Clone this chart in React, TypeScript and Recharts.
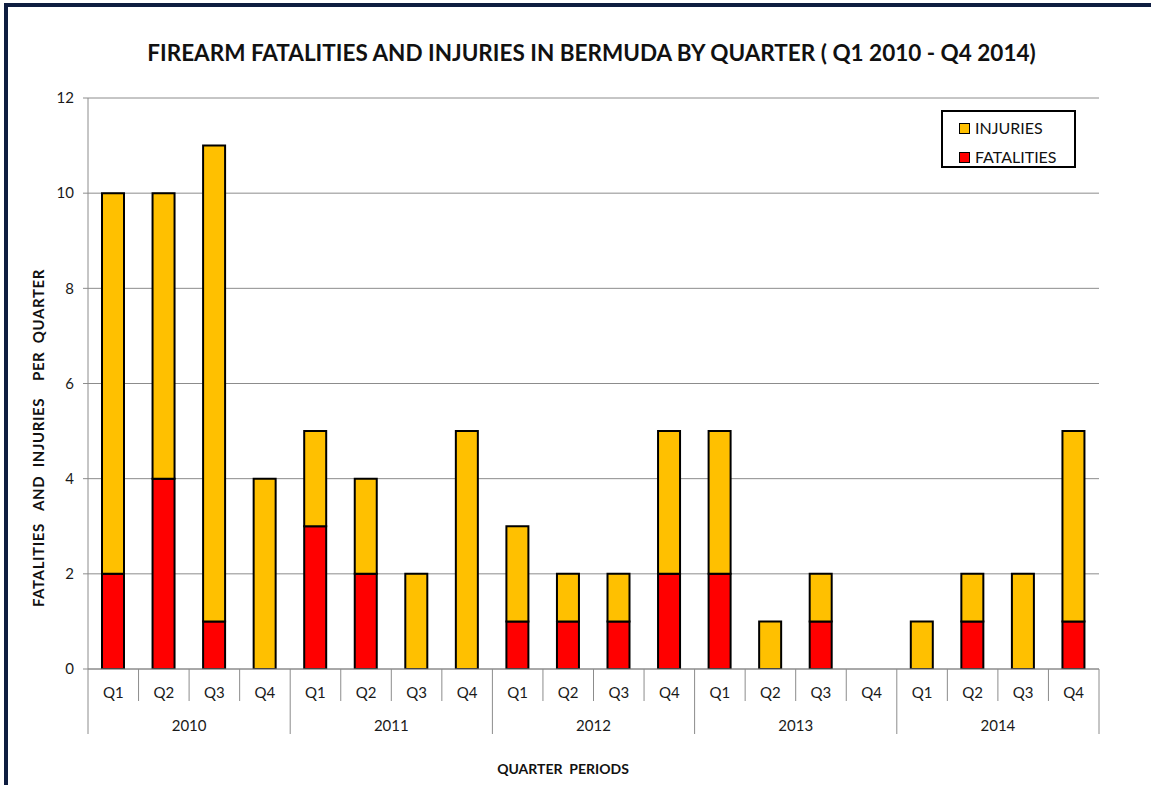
import React from "react";
import { Bar, BarChart, CartesianGrid, XAxis, YAxis } from "recharts";

document.body.style.margin = "0";

const years: string[] = ["2010", "2011", "2012", "2013", "2014"];
const quarters: string[] = ["Q1", "Q2", "Q3", "Q4"];

// per quarter, in order Q1 2010 .. Q4 2014
const fatalities: number[] = [2, 4, 1, 0, 3, 2, 0, 0, 1, 1, 1, 2, 2, 0, 1, 0, 0, 1, 0, 1];
const injuries: number[] = [8, 6, 10, 4, 2, 2, 2, 5, 2, 1, 1, 3, 3, 1, 1, 0, 1, 1, 2, 4];

const yTicks: number[] = [0, 2, 4, 6, 8, 10, 12];

const data = fatalities.map((f, i) => ({
  quarter: quarters[i % 4],
  year: years[Math.floor(i / 4)],
  fatalities: f,
  injuries: injuries[i],
}));

const W = 1151;
const H = 785;
const PLOT_LEFT = 88;
const PLOT_RIGHT = 1099;
const PLOT_TOP = 98;
const PLOT_BOTTOM = 669;
const BAND = (PLOT_RIGHT - PLOT_LEFT) / data.length;
const FONT = "Lato, 'Open Sans', sans-serif";
const GRID = "#8c8c8c";

const QuarterTick = (props: any) => {
  const { x, index, payload } = props;
  const left = x - BAND / 2;
  const right = x + BAND / 2;
  const last = index === data.length - 1;
  const yearStart = index % 4 === 0;
  return (
    <g>
      <line
        x1={left}
        x2={left}
        y1={PLOT_BOTTOM}
        y2={yearStart ? 734 : 701}
        stroke={GRID}
        strokeWidth={1}
      />
      {last && (
        <line x1={right} x2={right} y1={PLOT_BOTTOM} y2={734} stroke={GRID} strokeWidth={1} />
      )}
      <text
        x={x}
        y={692}
        textAnchor="middle"
        dominantBaseline="central"
        fontSize={15}
        fontFamily={FONT}
        fill="#1a1a1a"
      >
        {payload.value}
      </text>
      {yearStart && (
        <text
          x={left + BAND * 2}
          y={725}
          textAnchor="middle"
          dominantBaseline="central"
          fontSize={15}
          fontFamily={FONT}
          fill="#1a1a1a"
        >
          {data[index].year}
        </text>
      )}
    </g>
  );
};

const legendItems = [
  { name: "INJURIES", color: "#FFC000", top: 7 },
  { name: "FATALITIES", color: "#FF0000", top: 36 },
];

const App: React.FC = () => {
  return (
    <div style={{ position: "relative", width: W, height: H, background: "#fff", overflow: "hidden" }}>
      <div
        style={{
          position: "absolute",
          left: 4,
          top: 3,
          width: W + 20,
          height: H + 20,
          borderLeft: "4px solid #0e1d40",
          borderTop: "4px solid #0e1d40",
        }}
      />
      <div
        style={{
          position: "absolute",
          left: 0,
          width: 1183,
          top: 38,
          textAlign: "center",
          fontFamily: FONT,
          fontWeight: 700,
          fontSize: 22.5,
          color: "#111",
          lineHeight: "30px",
        }}
      >
        FIREARM FATALITIES AND INJURIES IN BERMUDA BY QUARTER ( Q1 2010 - Q4 2014)
      </div>
      <div
        style={{
          position: "absolute",
          left: 38,
          top: 438,
          transform: "translate(-50%, -50%) rotate(-90deg)",
          whiteSpace: "pre",
          fontFamily: FONT,
          fontWeight: 700,
          fontSize: 15,
          letterSpacing: 0.6,
          color: "#111",
        }}
      >
        {"FATALITIES   AND  INJURIES    PER  QUARTER"}
      </div>
      <div
        style={{
          position: "absolute",
          left: 563,
          top: 768,
          transform: "translate(-50%, -50%)",
          whiteSpace: "pre",
          fontFamily: FONT,
          fontWeight: 700,
          fontSize: 14,
          color: "#111",
        }}
      >
        {"QUARTER  PERIODS"}
      </div>
      <div style={{ position: "absolute", left: 0, top: 0 }}>
        <BarChart
          width={W}
          height={H}
          data={data}
          margin={{ top: PLOT_TOP, right: W - PLOT_RIGHT, left: 0, bottom: 0 }}
          barSize={22}
        >
          <CartesianGrid stroke={GRID} vertical={false} />
          <XAxis
            dataKey="quarter"
            interval={0}
            height={H - PLOT_BOTTOM}
            tickLine={false}
            tickSize={0}
            axisLine={{ stroke: GRID }}
            tick={<QuarterTick />}
          />
          <YAxis
            width={PLOT_LEFT}
            domain={[0, 12]}
            ticks={yTicks}
            allowDataOverflow
            tickSize={5}
            tickMargin={9}
            axisLine={{ stroke: GRID }}
            tickLine={{ stroke: GRID }}
            tick={{ fontSize: 15, fontFamily: FONT, fill: "#1a1a1a" }}
          />
          <Bar
            dataKey="fatalities"
            name="FATALITIES"
            stackId="a"
            fill="#FF0000"
            stroke="#000"
            strokeWidth={2}
            isAnimationActive={false}
          />
          <Bar
            dataKey="injuries"
            name="INJURIES"
            stackId="a"
            fill="#FFC000"
            stroke="#000"
            strokeWidth={2}
            isAnimationActive={false}
          />
        </BarChart>
      </div>
      <div
        style={{
          position: "absolute",
          left: 941,
          top: 110,
          width: 131,
          height: 54,
          border: "2px solid #000",
          background: "#fff",
          fontFamily: FONT,
          fontSize: 16,
          color: "#111",
        }}
      >
        {legendItems.map((it) => (
          <div
            key={it.name}
            style={{ position: "absolute", left: 16, top: it.top, display: "flex", alignItems: "center" }}
          >
            <span
              style={{
                display: "inline-block",
                width: 9,
                height: 9,
                background: it.color,
                border: "1.5px solid #000",
                marginRight: 5,
              }}
            />
            <span style={{ lineHeight: "18px" }}>{it.name}</span>
          </div>
        ))}
      </div>
    </div>
  );
};

export default App;
